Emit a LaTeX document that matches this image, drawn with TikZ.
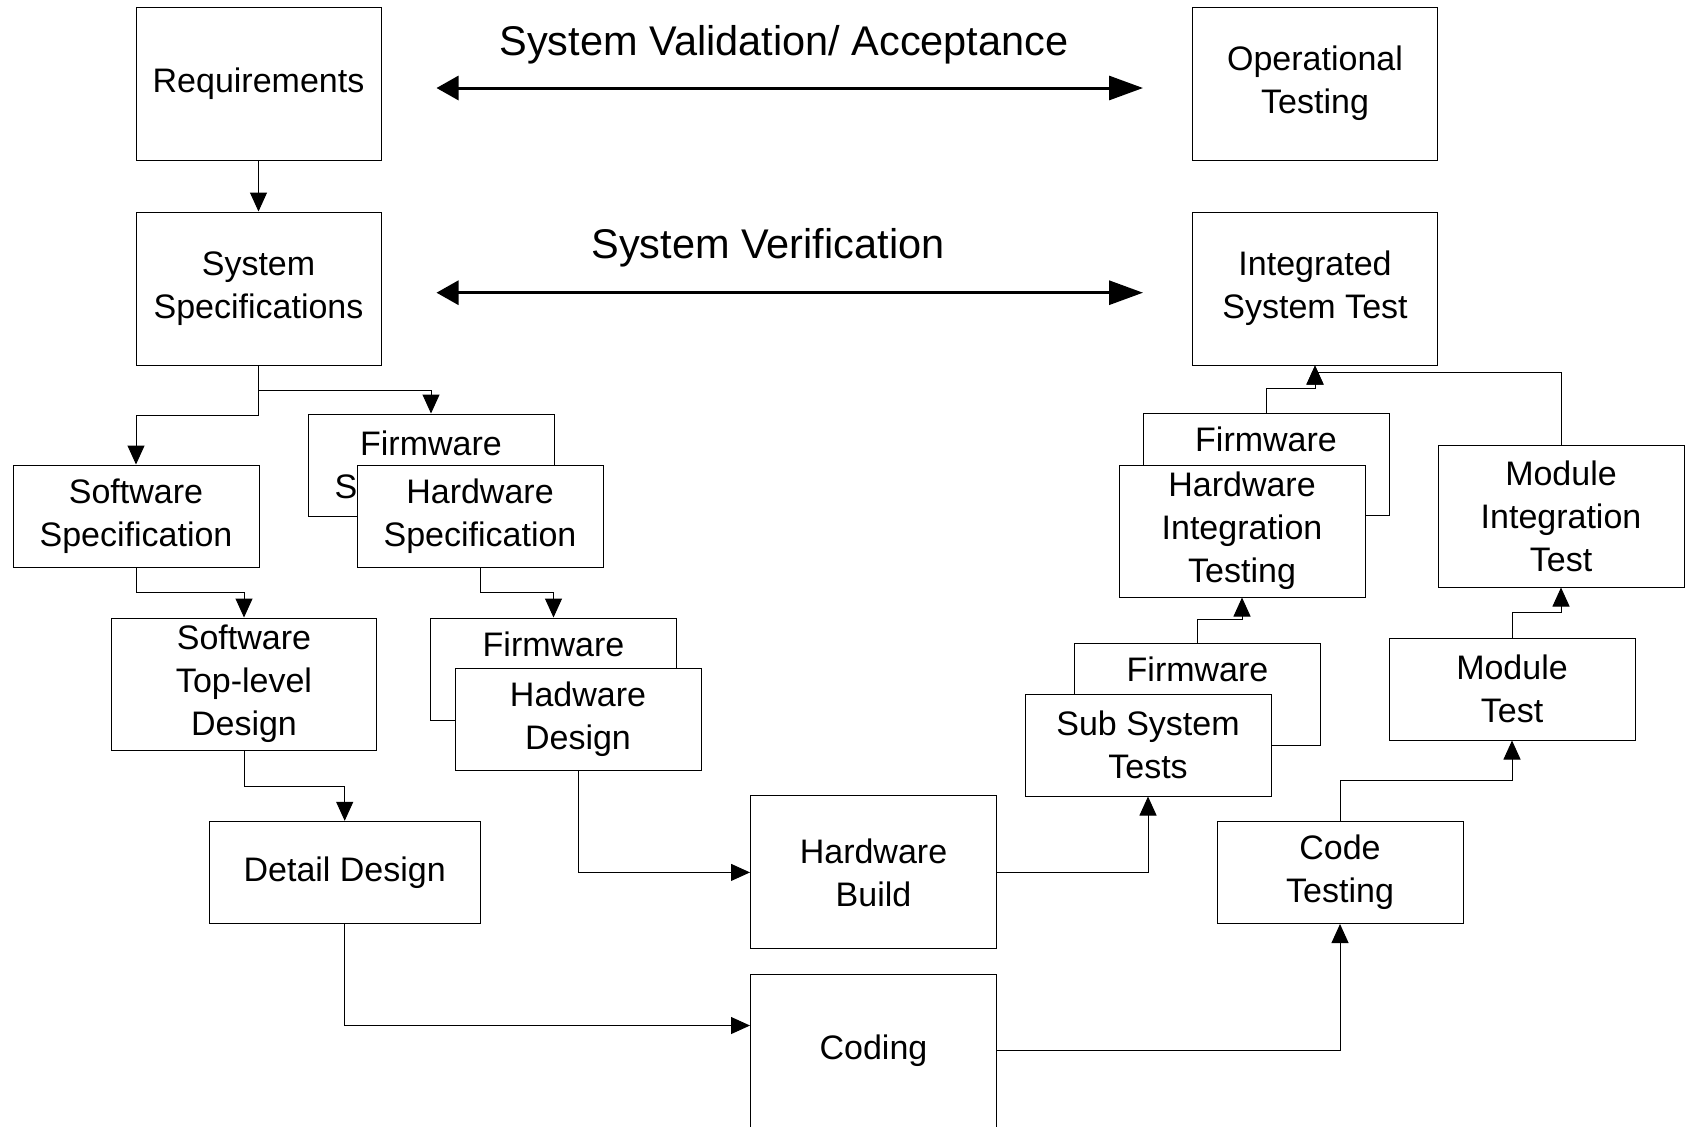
\documentclass[tikz,border=0pt]{standalone}
\usepackage{fontspec}
\setmainfont{Liberation Sans}
\usepackage{tikz}
\usetikzlibrary{arrows.meta, positioning}

\begin{document}
\begin{tikzpicture}[
  x=0.5pt, y=-0.5pt,
  box/.style={rectangle, draw=black, fill=white, line width=0.5pt, align=center,
    minimum width=123pt, minimum height=51pt, inner sep=0pt,
    font=\fontsize{17}{21.5}\selectfont},
  bigbox/.style={box, minimum width=122.5pt, minimum height=76.5pt},
  conn/.style={-{Triangle[length=9.5pt, width=8.5pt]}, line width=0.5pt},
  vvarrow/.style={{Triangle[length=11pt, width=12pt]}-{Triangle[length=17pt, width=12pt]},
    line width=1.5pt},
  heading/.style={anchor=base, inner sep=0pt, font=\fontsize{20.75}{25}\selectfont},
]
  \useasboundingbox (0,0) rectangle (1689,1126);

  % system level
  \node[bigbox] (req) at (258.5,83.5) {Requirements};
  \node[bigbox, below=25.5pt of req] (sysspec) {System\\Specifications};
  \node[bigbox] (optest) at (1315,83.5) {Operational\\Testing};
  \node[bigbox, below=25.5pt of optest] (ist) {Integrated\\System Test};

  \node[heading] (valtext) at (784,55) {System Validation/ Acceptance};
  \node[heading] (vertext) at (768,258) {System Verification};

  % left side
  \node[box] (swspec) at (136,516) {Software\\Specification};
  \node[box] (fwspec) at (431,465) {Firmware\\\rlap{S}\hphantom{Specification}};
  \node[box] (hwspec) at (480,516) {Hardware\\Specification};
  \node[box, minimum width=132.5pt, minimum height=66pt] (swtop) at (244,684) {Software\\Top-level\\Design};
  \node[box] (fwdes) at (553.5,669) {Firmware\\\vphantom{Sp}};
  \node[box] (hwdes) at (578,719.5) {Hadware\\Design};
  \node[box, minimum width=135.5pt] (detail) at (344.7,872.3) {Detail Design};

  % bottom
  \node[bigbox, minimum width=123pt] (hwbuild) at (873.5,872.4) {Hardware\\Build};
  \node[bigbox, minimum width=123pt] (coding) at (873.5,1050.5) {Coding};

  % right side
  \node[box] (fwss) at (1197.5,694) {Firmware\\\vphantom{Sp}};
  \node[box] (sst) at (1148,745) {Sub System\\Tests};
  \node[box] (fwhit) at (1266,464.5) {Firmware\\\vphantom{Sp}};
  \node[box, minimum height=66pt] (hit) at (1242,531) {Hardware\\Integration\\Testing};
  \node[box, minimum height=71pt] (mit) at (1561,516) {Module\\Integration\\Test};
  \node[box] (modtest) at (1512,689) {Module\\Test};
  \node[box] (codetest) at (1340,872.5) {Code\\Testing};

  \draw[vvarrow] ([xshift=27.5pt, yshift=-2.25pt]req.east) -- ([xshift=-24.5pt, yshift=-2.25pt]optest.west);
  \draw[vvarrow] ([xshift=27.5pt, yshift=-2.1pt]sysspec.east) -- ([xshift=-24.5pt, yshift=-2.1pt]ist.west);

  \draw[conn] (req.south) -- (sysspec.north);
  \draw[conn] (sysspec.south) -- ++(0,25) -| (fwspec.north);
  \draw[conn] (sysspec.south) -- ++(0,50) -| (swspec.north);
  \draw[conn] (swspec.south) -- ++(0,25) -| (swtop.north);
  \draw[conn] (hwspec.south) -- ++(0,25) -| (fwdes.north);
  \draw[conn] (swtop.south) -- ++(0,35.7) -| (detail.north);
  \draw[conn] (hwdes.south) |- (hwbuild.west);
  \draw[conn] (detail.south) |- ([yshift=12.5pt]coding.west);
  \draw[conn] (hwbuild.east) -| (sst.south);
  \draw[conn] (coding.east) -| (codetest.south);
  \draw[conn] (codetest.north) -- ++(0,-40.7) -| (modtest.south);
  \draw[conn] (modtest.north) -- ++(0,-25) -| (mit.south);
  \draw[conn] (fwss.north) -- ++(0,-23) -| (hit.south);
  \draw[conn] (fwhit.north) -- ++(0,-25) -| (ist.south);
  \draw[conn] (mit.north) -- ++(0,-72) -| (ist.south);
\end{tikzpicture}
\end{document}
